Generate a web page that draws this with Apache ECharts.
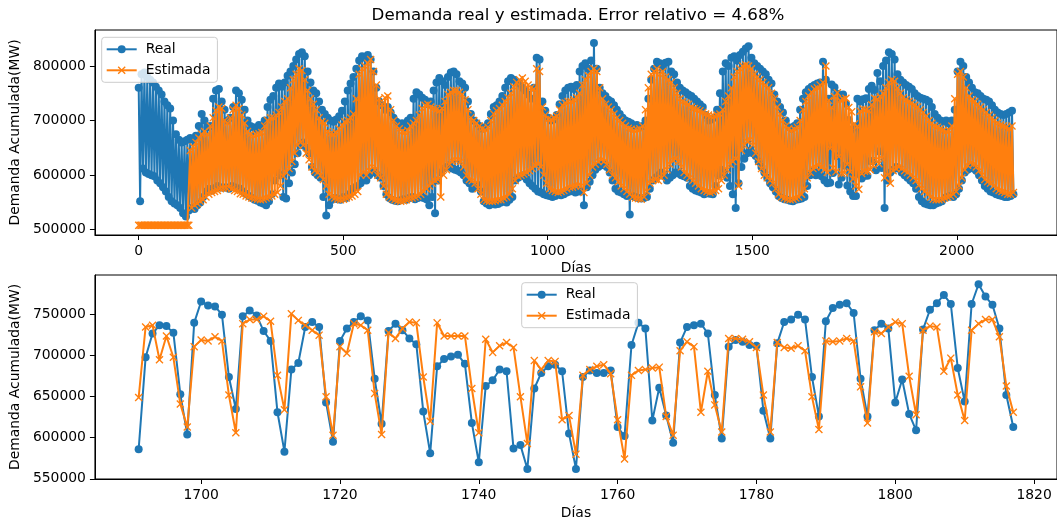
<!DOCTYPE html>
<html><head><meta charset="utf-8">
<script src="https://cdn.jsdelivr.net/npm/echarts@6/dist/echarts.min.js"></script>
<style>html,body{margin:0;padding:0;background:#fff}#c{width:1057px;height:521px}</style>
</head><body><div id="c"></div>
<script>
// ---------- DATA (values in thousands of MW) ----------
// Top chart: per week w (days 7w..7w+6): weekday high and weekend low
const topRealHigh = [
 760,785,788,780,775,770,762,755,748,735,
 728,722,700,675,665,660,662,665,668,665,
 672,690,712,700,688,690,740,755,758,735,
 720,700,705,725,755,750,738,720,700,690,
 688,685,692,690,700,725,738,745,760,768,
 762,770,782,790,800,812,822,825,818,790,
 770,755,750,735,720,712,705,700,698,702,
 708,718,735,755,768,780,795,810,818,815,
 820,812,790,760,735,728,720,725,715,705,
 698,692,695,690,700,705,740,752,748,742,
 738,730,735,755,770,778,772,765,780,788,
 790,785,772,768,760,735,712,700,695,690,
 685,688,695,712,725,728,735,745,760,772,
 778,775,770,768,760,755,748,740,760,815,
 812,735,718,705,700,702,710,730,745,755,
 760,762,758,765,790,800,805,795,810,842,
 795,760,750,745,738,735,728,720,712,705,
 700,698,695,690,692,688,690,700,740,775,
 795,808,805,798,806,808,790,785,770,760,
 755,752,748,745,740,735,730,725,710,700,
 702,705,720,750,790,805,800,815,818,810,
 820,826,832,836,815,805,800,795,790,785,
 775,768,748,735,725,715,700,688,685,690,
 695,720,740,752,758,762,765,768,770,808,
 775,740,766,761,749,741,748,731,701,683,
 689,740,735,739,741,758,764,756,787,772,
 800,810,825,822,812,785,775,770,765,762,
 758,750,745,742,740,738,735,725,712,705,
 700,698,700,695,700,720,790,808,800,780,
 770,760,752,750,745,740,738,735,728,720,
 715,712,710,712,715,718
];
const topRealLow = [
 552,612,605,602,600,598,590,585,578,570,
 560,552,548,545,540,530,524,535,540,538,
 545,550,560,570,575,572,576,580,578,577,
 578,575,580,578,576,575,570,566,562,558,
 555,553,550,548,545,552,565,590,605,600,
 560,557,585,605,620,640,655,660,650,640,
 615,605,600,595,560,526,545,555,558,556,
 555,560,558,565,575,578,580,585,595,590,
 600,605,607,600,595,580,565,558,555,553,
 552,554,556,555,558,560,556,558,560,558,
 556,545,560,530,590,605,612,615,618,612,
 610,608,605,600,590,585,575,578,582,570,
 552,548,545,548,546,547,550,552,550,555,
 560,590,595,598,600,592,585,580,575,570,
 568,565,563,562,560,562,565,563,565,568,
 570,572,568,570,570,545,578,588,600,610,
 615,618,620,615,605,590,575,570,568,565,
 562,528,562,560,558,557,558,560,575,590,
 595,600,605,598,590,595,600,605,603,600,
 598,595,580,575,572,570,568,565,567,566,
 565,580,600,610,605,595,580,565,540,585,
 615,630,640,645,640,635,625,615,605,595,
 585,578,570,562,558,556,555,553,552,555,
 556,557,560,580,600,607,600,605,598,590,
 585,586,604,635,583,595,617,581,570,562,
 562,602,594,599,599,626,626,609,644,613,
 540,590,605,610,615,612,605,600,595,590,
 585,575,560,552,548,546,545,545,548,550,
 552,558,560,562,560,565,575,590,605,610,
 615,612,608,600,590,580,575,570,568,565,
 563,562,560,560,562,565
];
const topEstHigh = [
 508,508,508,508,508,508,508,508,508,508,
 508,508,508,508,508,508,508,508,645,652,
 660,668,675,680,675,690,705,718,725,722,
 700,695,705,720,728,722,710,695,680,675,
 672,674,676,678,690,700,705,705,710,715,
 725,735,740,760,775,785,795,792,775,755,
 740,730,720,705,698,695,680,676,675,678,
 685,692,698,700,705,712,740,785,795,800,
 805,812,790,765,740,730,742,745,720,700,
 690,685,680,678,682,690,695,700,710,722,
 728,730,725,722,720,718,722,735,748,752,
 755,755,752,748,738,720,705,700,695,690,
 685,683,688,700,712,718,722,728,735,742,
 750,762,770,775,778,772,765,760,758,795,
 790,725,710,703,702,705,708,720,728,732,
 735,735,738,742,750,765,775,782,790,795,
 790,760,740,730,725,720,712,705,700,695,
 690,686,684,682,683,685,690,720,760,785,
 790,795,785,790,780,775,770,760,750,740,
 735,732,730,725,722,720,718,715,712,710,
 708,708,710,712,720,735,745,760,780,790,
 795,800,802,800,795,785,780,775,770,765,
 760,750,740,725,712,700,690,685,682,684,
 688,700,720,735,745,752,758,760,765,770,
 800,737,724,744,751,737,739,741,724,716,
 694,689,717,721,720,718,729,741,739,744,
 750,760,770,775,772,760,750,742,738,735,
 732,728,725,720,715,708,700,695,690,688,
 685,682,680,682,690,740,785,790,780,760,
 745,738,735,730,725,720,715,710,705,700,
 695,692,690,688,685,690
];
const topEstLow = [
 508,508,508,508,508,508,508,508,508,508,
 508,508,508,508,508,508,508,508,540,545,
 548,552,555,560,565,568,570,572,575,576,
 577,578,575,572,570,566,565,562,560,558,
 557,556,555,556,558,560,562,565,568,580,
 598,605,612,625,640,655,660,655,640,628,
 615,608,605,600,592,580,565,560,558,556,
 555,556,558,560,562,565,570,600,605,600,
 608,615,610,600,595,580,565,560,557,555,
 553,552,553,555,557,558,560,562,565,570,
 575,580,585,590,592,560,600,610,620,625,
 628,628,625,615,600,592,590,585,575,565,
 555,553,552,552,553,555,555,558,560,565,
 575,590,598,600,602,605,608,612,618,620,
 615,600,585,575,572,570,568,570,572,575,
 578,578,580,582,580,568,585,600,615,620,
 625,628,625,620,610,600,595,588,580,575,
 570,565,560,558,557,556,560,570,585,590,
 592,590,595,600,610,620,628,630,625,615,
 605,600,595,590,585,580,575,572,570,568,
 570,572,575,590,600,610,620,625,630,580,
 645,655,662,665,655,640,625,612,600,595,
 590,585,575,565,560,558,556,555,556,558,
 560,565,575,595,605,612,615,618,615,610,
 605,649,613,606,634,603,604,620,606,593,
 580,574,603,607,607,610,618,628,621,631,
 595,600,585,608,612,615,612,608,605,600,
 595,590,582,575,570,565,560,556,555,555,
 556,558,560,562,565,570,580,595,610,618,
 622,620,615,608,600,592,588,585,580,575,
 572,570,568,565,565,568
];
// Bottom chart: daily values, days 1691..1817
const bottomFirstDay = 1691;
const bottomReal = [
 586,698,727,737,736,728,653,604,740,766,
 761,760,750,674,635,748,755,749,730,718,
 631,583,683,691,735,741,735,643,595,718,
 733,741,748,743,672,617,730,739,731,721,
 714,632,581,687,696,699,701,690,618,570,
 663,670,683,681,587,591,562,660,679,687,
 689,681,605,562,674,682,679,679,682,613,
 602,713,740,733,621,661,627,594,716,735,
 737,739,727,652,599,711,719,717,713,712,
 633,599,715,741,744,750,744,674,626,742,
 758,762,764,752,672,626,731,739,733,643,
 671,629,609,732,756,764,774,763,685,644,
 763,787,772,762,733,652,613
];
const bottomEst = [
 649,735,737,695,724,698,641,613,711,719,
 718,723,718,652,606,739,744,744,748,742,
 676,634,751,743,737,731,725,650,603,711,
 703,739,737,731,654,604,728,721,733,741,
 740,674,620,740,724,724,724,724,660,606,
 720,704,712,716,710,650,593,694,683,694,
 693,622,627,580,676,683,687,689,678,622,
 574,676,682,683,685,686,626,603,706,717,
 711,631,681,640,607,721,721,720,717,710,
 652,607,716,710,709,712,706,650,610,718,
 717,718,721,718,662,618,729,727,735,741,
 739,675,628,731,736,735,681,697,652,621,
 731,739,744,744,723,663,631
];
const topXTicks = [0, 500, 1000, 1500, 2000];
const topYTicks = [500000, 600000, 700000, 800000];
const bottomXTicks = [1700, 1720, 1740, 1760, 1780, 1800, 1820];
const bottomYTicks = [550000, 600000, 650000, 700000, 750000];
const titleText = 'Demanda real y estimada. Error relativo = 4.68%';

// ---------- BUILD ----------
function weekly(highs, lows) {
  const out = [];
  for (let w = 0; w < highs.length; w++) {
    out.push([w * 7, highs[w] * 1000]);
    out.push([w * 7 + 3.5, lows[w] * 1000]);
  }
  return out;
}
function daily(vals) { return vals.map((v, i) => [bottomFirstDay + i, v * 1000]); }

const BLUE = '#1f77b4', ORANGE = '#ff7f0e';
const XSYM = 'path://M0,1.2L1.2,0L5,3.8L8.8,0L10,1.2L6.2,5L10,8.8L8.8,10L5,6.2L1.2,10L0,8.8L3.8,5Z';
const FF = 'DejaVu Sans';
const FS = 13.9;
const plain = v => String(Math.round(v));

function xAxis(gi, min, max, ticks, gap) {
  return {
    gridIndex: gi, type: 'value', min: min, max: max,
    axisLine: { show: true, onZero: false, lineStyle: { color: '#000', width: 1 } },
    axisTick: { show: true, length: 5, lineStyle: { color: '#000', width: 1 }, customValues: ticks },
    axisLabel: { customValues: ticks, formatter: plain, margin: 9, fontSize: FS, color: '#000', fontFamily: FF },
    splitLine: { show: false },
    name: 'Días', nameLocation: 'middle', nameGap: gap,
    nameTextStyle: { fontSize: FS, color: '#000', fontFamily: FF }
  };
}
function yAxis(gi, min, max, ticks) {
  return {
    gridIndex: gi, type: 'value', min: min, max: max,
    axisLine: { show: true, onZero: false, lineStyle: { color: '#000', width: 1 } },
    axisTick: { show: true, length: 5, lineStyle: { color: '#000', width: 1 }, customValues: ticks },
    axisLabel: { customValues: ticks, formatter: plain, margin: 9, fontSize: FS, color: '#000', fontFamily: FF },
    splitLine: { show: false },
    name: 'Demanda Acumulada(MW)', nameLocation: 'middle', nameGap: 62,
    nameTextStyle: { fontSize: FS, color: '#000', fontFamily: FF }
  };
}
function series(name, gi, data, isReal) {
  return {
    type: 'line', name: name, xAxisIndex: gi, yAxisIndex: gi, data: data,
    symbol: isReal ? 'circle' : XSYM, symbolSize: 8, showSymbol: true,
    lineStyle: { width: 2, color: isReal ? BLUE : ORANGE },
    itemStyle: { color: isReal ? BLUE : ORANGE },
    z: isReal ? 2 : 3, emphasis: { disabled: true }, silent: true
  };
}
function legend(left, top) {
  return {
    data: ['Real', 'Estimada'], orient: 'vertical', left: left, top: top,
    itemWidth: 30, itemHeight: 10, itemGap: 7, padding: [5, 7, 5, 4],
    backgroundColor: 'rgba(255,255,255,0.8)', borderColor: '#cccccc', borderWidth: 1, borderRadius: 3,
    selectedMode: false,
    textStyle: { fontSize: FS, color: '#000', fontFamily: FF, padding: [0, 0, 0, 4] }
  };
}

const chart = echarts.init(document.getElementById('c'), null, { renderer: 'canvas', width: 1057, height: 521 });
chart.setOption({
  animation: false,
  backgroundColor: '#fff',
  textStyle: { fontFamily: FF },
  graphic: [{
    type: 'text', x: 578, y: 16,
    style: { text: titleText, font: '16.7px "DejaVu Sans"', fill: '#000', textAlign: 'center', textVerticalAlign: 'middle', verticalAlign: 'middle' }
  }],
  legend: [legend(101.7, 37.3), legend(521.7, 282.7)],
  grid: [
    { left: 94, top: 30, width: 968, height: 205, show: true, borderColor: '#000', borderWidth: 1, backgroundColor: 'transparent' },
    { left: 94, top: 275, width: 968, height: 204, show: true, borderColor: '#000', borderWidth: 1, backgroundColor: 'transparent' }
  ],
  xAxis: [xAxis(0, -107, 2245, topXTicks, 26), xAxis(1, 1684.7, 1823.3, bottomXTicks, 27)],
  yAxis: [yAxis(0, 490300, 866000, topYTicks), yAxis(1, 549700, 798300, bottomYTicks)],
  series: [
    series('Real', 0, weekly(topRealHigh, topRealLow), true),
    series('Estimada', 0, weekly(topEstHigh, topEstLow), false),
    series('Real', 1, daily(bottomReal), true),
    series('Estimada', 1, daily(bottomEst), false)
  ]
});
</script>
</body></html>
